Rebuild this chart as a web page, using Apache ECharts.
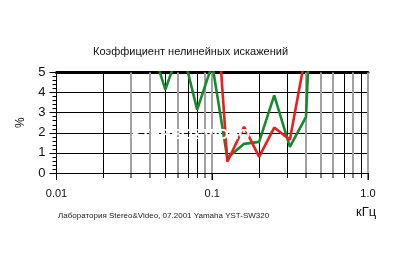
<!DOCTYPE html>
<html><head><meta charset="utf-8">
<script src="https://cdn.jsdelivr.net/npm/echarts@6/dist/echarts.min.js"></script>
<style>html,body{margin:0;padding:0;background:#fff}#c{width:400px;height:280px}</style>
</head><body><div id="c"></div>
<script>
// ---- data ----
const titleText = 'Коэффициент нелинейных искажений';
const footerText = 'Лаборатория Stereo&Video, 07.2001 Yamaha YST-SW320';
const unitText = 'кГц';
const yName = '%';
const watermarkText = 'STEREO&VIDEO';
const greenFreq = [0.04, 0.05, 0.063, 0.08, 0.1, 0.125, 0.16, 0.2, 0.25, 0.315, 0.4, 0.5];
const greenVal  = [6.5, 4.15, 6.4, 3.15, 5.4, 0.75, 1.45, 1.55, 3.86, 1.3, 2.79, 20];
const redFreq = [0.1, 0.125, 0.16, 0.2, 0.25, 0.315, 0.4, 0.5];
const redVal  = [11.5, 0.56, 2.3, 0.8, 2.26, 1.65, 6.0, 15];
const gridFreq = [0.02,0.03,0.04,0.05,0.06,0.07,0.08,0.09,0.1,0.2,0.3,0.4,0.5,0.6,0.7,0.8,0.9,1.0];
const majorFreq = [0.1, 1.0];
const xMin = 0.01, xMax = 1, yMin = 0, yMax = 5;

// ---- style ----
const grayLines = new Set([0.03,0.04,0.06,0.09,0.1,0.4,0.5,0.6,0.8,1.0]);
const FONT = 'Liberation Sans, Arial, sans-serif';

const chart = echarts.init(document.getElementById('c'), null, {renderer: 'canvas'});
const pair = (xs, ys) => xs.map((x, i) => [x, ys[i]]);

const option = {
  animation: false,
  backgroundColor: '#fff',
  grid: {left: 56.5, right: 32, top: 72.5, bottom: 107},
  xAxis: [{
    type: 'log', logBase: 10, min: xMin, max: xMax,
    axisLine: {lineStyle: {color: '#000', width: 1}},
    axisTick: {show: true, length: 7, lineStyle: {color: '#000'}},
    splitLine: {show: false},
    axisLabel: {
      margin: 15, color: '#111', fontSize: 11, fontFamily: FONT,
      formatter: v => v >= 1 ? Number(v).toFixed(1) : String(+Number(v).toPrecision(2))
    }
  }, {
    type: 'log', logBase: 10, min: xMin, max: xMax, position: 'top',
    axisLine: {show: true, lineStyle: {color: '#000', width: 3}},
    axisTick: {show: false}, axisLabel: {show: false}, splitLine: {show: false}
  }],
  yAxis: {
    type: 'value', min: yMin, max: yMax, interval: 1,
    name: yName, nameLocation: 'middle', nameRotate: 90, nameGap: 30,
    nameTextStyle: {fontSize: 12, color: '#111', fontFamily: FONT},
    axisLine: {show: true, lineStyle: {color: '#000', width: 1}},
    axisTick: {show: true, length: 7, lineStyle: {color: '#000'}},
    minorTick: {show: true, splitNumber: 5, length: 4, lineStyle: {color: '#000'}},
    splitLine: {show: true, lineStyle: {color: '#000', width: 1}},
    axisLabel: {margin: 11, fontSize: 13, color: '#111', fontFamily: FONT}
  },
  series: [{
    type: 'custom',
    clip: false,
    z: 1,
    silent: true,
    data: gridFreq.map(f => [f]),
    renderItem: function (params, api) {
      const f = api.value(0);
      const top = api.coord([f, yMax]);
      const bot = api.coord([f, yMin]);
      const gray = grayLines.has(+f.toPrecision(2));
      const major = majorFreq.some(m => Math.abs(m - f) < 1e-9);
      const x = Math.round(bot[0]) + (gray ? 0 : 0.5);
      return {
        type: 'group',
        children: [{
          type: 'line',
          shape: {x1: x, y1: top[1], x2: x, y2: bot[1]},
          style: {stroke: gray ? '#a0a0a0' : '#000', lineWidth: gray ? 2 : 1}
        }, {
          type: 'line',
          shape: {x1: x, y1: bot[1], x2: x, y2: bot[1] + (major ? 7 : 5)},
          style: {stroke: '#000', lineWidth: 1}
        }]
      };
    }
  }, {
    type: 'line', name: 'green', data: pair(greenFreq, greenVal),
    symbol: 'none', clip: true, z: 3,
    lineStyle: {color: '#158a2c', width: 2.6}
  }, {
    type: 'line', name: 'red', data: pair(redFreq, redVal),
    symbol: 'none', clip: true, z: 4,
    lineStyle: {color: '#ee1c1c', width: 2.6}
  }],
  graphic: [{
    type: 'text', left: 93, top: 46, z: 10,
    style: {text: titleText, fontSize: 11, fill: '#111', fontFamily: FONT}
  }, {
    type: 'text', left: 58, top: 212, z: 10,
    style: {text: footerText, fontSize: 8, fill: '#222', fontFamily: FONT}
  }, {
    type: 'text', left: 356, top: 206, z: 10,
    style: {text: unitText, fontSize: 13, fill: '#111', fontFamily: FONT}
  }, {
    type: 'text', left: 131, top: 127, z: 20,
    style: {text: watermarkText, fontSize: 15, fontWeight: 'bold', fill: '#fff', fontFamily: FONT}
  }]
};
chart.setOption(option);
</script>
</body></html>
